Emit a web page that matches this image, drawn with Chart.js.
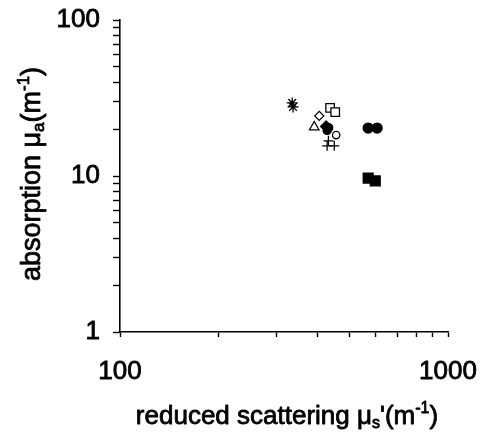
<!DOCTYPE html>
<html><head><meta charset="utf-8">
<script src="https://cdn.jsdelivr.net/npm/chart.js@4"></script>
<style>html,body{margin:0;padding:0;background:#fff}</style>
</head><body><canvas id="c" width="480" height="435" style="width:480px;height:435px;display:block"></canvas>
<script>
// ---- data ----
const xTickLabels = [100, 1000];
const yTickLabels = [1, 10, 100];
const asteriskX = [335, 337];      const asteriskY = [29.4, 27.7];
const diamondOpenX = [405];        const diamondOpenY = [24.3];
const triangleOpenX = [391];       const triangleOpenY = [20.6];
const squareOpenX = [437, 453];    const squareOpenY = [27.3, 25.7];
const diamondFilledX = [425];      const diamondFilledY = [20.8];
const smallCircleFilledX = [433, 428]; const smallCircleFilledY = [20.4, 19.6];
const circleOpenX = [456];         const circleOpenY = [18.3];
const crossX = [432, 428, 450];    const crossY = [16.8, 15.6, 15.6];
const circleFilledX = [571, 608];  const circleFilledY = [20.3, 20.3];
const squareFilledX = [571, 600];  const squareFilledY = [9.7, 9.3];

const xTitle = ['reduced scattering ', 'μ', 's', '\'(m', '-1', ')'];
const yTitle = ['absorption ', 'μ', 'a', '(m', '-1', ')'];

const FONT = '"Liberation Sans", Arial, sans-serif';
const WEIGHT = 'normal';
const STROKE = 0.8;
const pts = (xs, ys) => xs.map((x, i) => ({x, y: ys[i]}));
function ds(xs, ys, style, filled, r) {
  return {data: pts(xs, ys), pointStyle: style, pointRadius: r, pointHoverRadius: r,
    backgroundColor: filled ? '#000' : '#fff', borderColor: '#000', borderWidth: 1.3, showLine: false};
}

function drawRich(ctx, parts, size) {
  const big = WEIGHT + ' ' + size + 'px ' + FONT, small = WEIGHT + ' ' + Math.round(size * 0.62) + 'px ' + FONT;
  const kinds = ['n', 'n', 'sub', 'n', 'sup', 'n'];
  let w = 0; const ws = [];
  parts.forEach((p, i) => { ctx.font = kinds[i] === 'n' ? big : small; const m = ctx.measureText(p).width; ws.push(m); w += m; });
  let x = -w / 2;
  ctx.textBaseline = 'alphabetic'; ctx.textAlign = 'left';
  ctx.fillStyle = '#000'; ctx.strokeStyle = '#000'; ctx.lineWidth = STROKE; ctx.lineJoin = 'round';
  parts.forEach((p, i) => {
    ctx.font = kinds[i] === 'n' ? big : small;
    let dy = 0;
    if (kinds[i] === 'sub') dy = size * 0.16;
    if (kinds[i] === 'sup') dy = -size * 0.42;
    ctx.fillText(p, x, dy);
    ctx.strokeText(p, x, dy);
    x += ws[i];
  });
}
const titlePlugin = {
  id: 'richTitles',
  afterDraw(chart) {
    const ctx = chart.ctx;
    ctx.save();
    ctx.translate(287, 424);
    drawRich(ctx, xTitle, 26);
    ctx.restore();
    ctx.save();
    ctx.translate(40, 174);
    ctx.rotate(-Math.PI / 2);
    drawRich(ctx, yTitle, 27);
    ctx.restore();
  }
};

// tick positions at 1..9 x each decade between the labelled powers of ten
function decadeTicks(labels) {
  const out = [];
  for (let i = 0; i < labels.length - 1; i++) for (let k = 1; k < 10; k++) out.push({value: labels[i] * k});
  out.push({value: labels[labels.length - 1]});
  return out;
}
const tickOpts = (labels, pad) => ({
  autoSkip: false, color: '#000', padding: pad, maxRotation: 0, minRotation: 0,
  textStrokeColor: '#000', textStrokeWidth: STROKE,
  font: {family: FONT, size: 26, weight: WEIGHT},
  callback: (v) => labels.includes(v) ? String(v) : ''
});

new Chart(document.getElementById('c'), {
  type: 'scatter',
  data: {datasets: [
    ds(asteriskX, asteriskY, 'star', false, 5.5),
    ds(squareOpenX, squareOpenY, 'rect', false, 6),
    ds(diamondOpenX, diamondOpenY, 'rectRot', false, 4.5),
    ds(triangleOpenX, triangleOpenY, 'triangle', false, 5.5),
    ds(circleOpenX, circleOpenY, 'circle', false, 3.7),
    ds(crossX, crossY, 'cross', false, 5),
    ds(diamondFilledX, diamondFilledY, 'rectRot', true, 5.5),
    ds(smallCircleFilledX, smallCircleFilledY, 'circle', true, 4),
    ds(circleFilledX, circleFilledY, 'circle', true, 5),
    ds(squareFilledX, squareFilledY, 'rect', true, 7)
  ]},
  options: {
    responsive: false, animation: false, devicePixelRatio: 1,
    layout: {padding: {top: 20, right: 32, left: 0, bottom: 0}},
    plugins: {legend: {display: false}, tooltip: {enabled: false}},
    scales: {
      x: {type: 'logarithmic', min: 100, max: 1000,
        border: {color: '#000', width: 1.6},
        grid: {drawOnChartArea: false, drawTicks: true, tickLength: 5, color: '#000', tickWidth: 1.4},
        ticks: tickOpts(xTickLabels, 19),
        afterBuildTicks: (s) => { s.ticks = decadeTicks(xTickLabels); },
        afterFit: (s) => { s.height = 103; s.paddingLeft = 0; s.paddingRight = 0; }
      },
      y: {type: 'logarithmic', min: 1, max: 100,
        border: {color: '#000', width: 1.6},
        grid: {drawOnChartArea: false, drawTicks: true, tickLength: 7, color: '#000', tickWidth: 1.4},
        ticks: tickOpts(yTickLabels, 13),
        afterBuildTicks: (s) => { s.ticks = decadeTicks(yTickLabels); },
        afterFit: (s) => { s.width = 120; s.paddingTop = 0; s.paddingBottom = 0; }
      }
    }
  },
  plugins: [titlePlugin]
});
</script>
</body></html>
